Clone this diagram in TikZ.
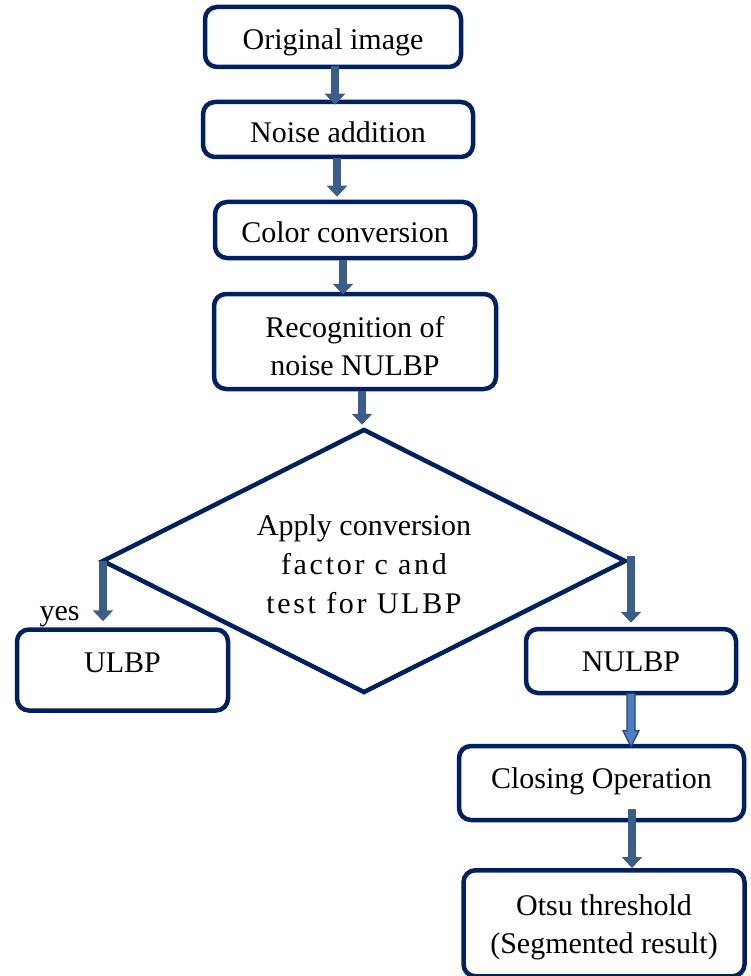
\documentclass[tikz,border=0pt]{standalone}
\usepackage{fontspec}
\setmainfont{Liberation Serif}
\newfontfamily\widefont[LetterSpace=9]{Liberation Serif}
\usetikzlibrary{arrows.meta,shapes.geometric,calc}
\definecolor{navy}{RGB}{0,32,96}
\definecolor{arrblue}{RGB}{59,93,138}
\definecolor{lightblue}{RGB}{74,126,193}
\definecolor{lightedge}{RGB}{40,68,118}
\tikzset{
  box/.style={draw=navy, line width=4.5pt, rounded corners=12pt, fill=white,
    align=center, inner sep=0pt, font=\fontsize{30}{38}\selectfont},
  arr/.style={draw=arrblue, line width=8pt,
    -{Triangle[width=20pt 0,length=11pt 0]}},
  lightarr/.style={fill=lightblue, draw=lightedge, line width=1.2pt, line join=miter},
  lbl/.style={font=\fontsize{30}{38}\selectfont, inner sep=0pt}
}
\begin{document}
\begin{tikzpicture}[x=1pt,y=-1pt]
\useasboundingbox (0,0) rectangle (750,976);
% boxes
\node[box, minimum width=256pt, minimum height=60pt, text height=26pt, text depth=0pt] (orig) at (333,37) {Original image};
\node[box, minimum width=270pt, minimum height=55pt, text height=26pt, text depth=0pt] (noise) at (338,129.5) {Noise addition};
\node[box, minimum width=260pt, minimum height=56pt, text height=26pt, text depth=0pt] (color) at (345,230) {Color conversion};
\node[box, minimum width=282pt, minimum height=95pt, text height=68pt] (recog) at (355,341.5) {Recognition of\\noise NULBP};
\node[draw=navy, line width=4.5pt, diamond, shape aspect=2, minimum width=524pt, minimum height=264pt,
  inner sep=0pt, align=center, text height=106pt, font=\fontsize{30}{39}\selectfont] (dec) at (364,561)
  {Apply conversion\\{\widefont factor c and}\\{\widefont test for ULBP}};
\node[box, minimum width=211pt, minimum height=81pt, text depth=14pt] (ulbp) at (122.5,670) {ULBP};
\node[box, minimum width=210pt, minimum height=64pt, text height=21pt, text depth=0pt] (nulbp) at (631,661) {NULBP};
\node[box, minimum width=285pt, minimum height=74pt, text depth=10pt] (close) at (601.5,783) {Closing Operation};
\node[box, minimum width=281pt, minimum height=106pt, text height=67.5pt] (otsu) at (604,923.25) {Otsu threshold\\(Segmented result)};
\node[lbl, anchor=base] (yes) at (59.5,620) {yes};
% arrow x positions
\coordinate (xa) at (335,0);
\coordinate (xb) at (337,0);
\coordinate (xc) at (343,0);
\coordinate (xd) at (362,0);
\coordinate (xl) at (103,0);
\coordinate (xr) at (631,0);
\coordinate (xo) at (632,0);
\draw[arr] ([yshift=3pt]xa |- orig.south) -- ([yshift=-5pt]xa |- noise.north);
\draw[arr] ([yshift=1pt]xb |- noise.south) -- ([yshift=3pt]xb |- color.north);
\draw[arr] (xc |- color.south) -- ([yshift=-3pt]xc |- recog.north);
\draw[arr] (xd |- recog.south) -- ([yshift=2pt]xd |- dec.north);
\draw[arr] (xl |- dec.west) -- ([yshift=6pt]xl |- ulbp.north);
\draw[arr] ([yshift=5pt]xr |- dec.east) -- ([yshift=4pt]xr |- nulbp.north);
\draw[arr] ([yshift=13pt]xo |- close.south) -- (xo |- otsu.north);
% light arrow NULBP -> Closing
\coordinate (ls) at ([yshift=2pt]xr |- nulbp.south);
\coordinate (le) at ([yshift=-3pt]xr |- close.north);
\draw[lightarr] ([xshift=-4pt]ls) -- ([xshift=4pt]ls) -- ([xshift=4pt,yshift=16pt]le) -- ([xshift=8pt,yshift=16pt]le)
  -- (le) -- ([xshift=-8pt,yshift=16pt]le) -- ([xshift=-4pt,yshift=16pt]le) -- cycle;
\end{tikzpicture}
\end{document}
